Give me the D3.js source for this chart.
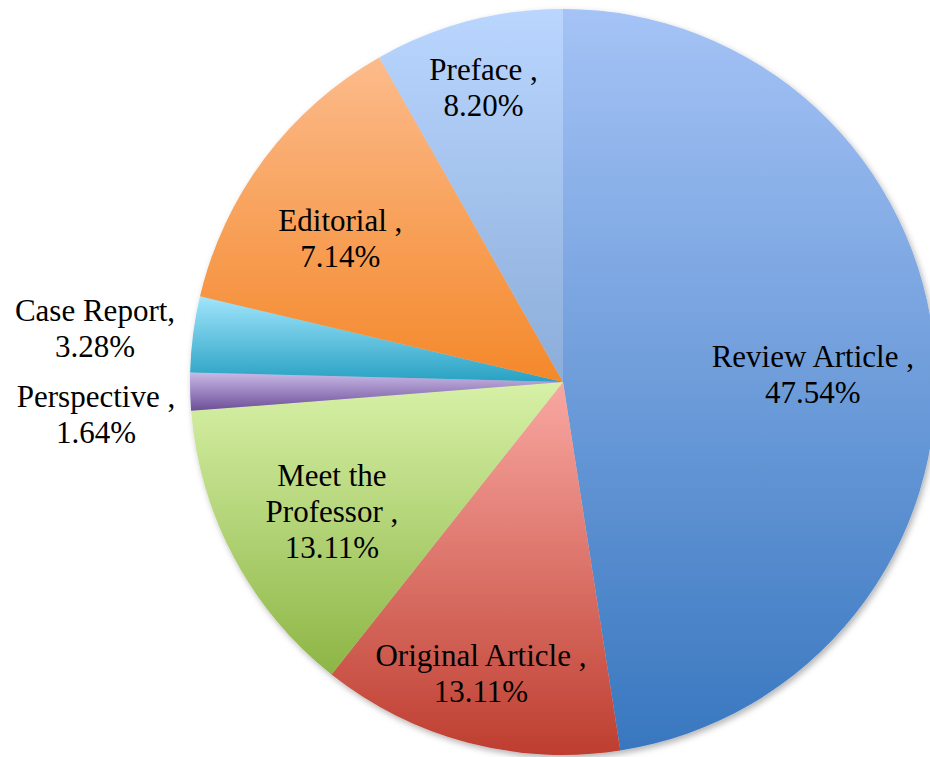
<!DOCTYPE html>
<html>
<head>
<meta charset="utf-8">
<script src="https://cdn.jsdelivr.net/npm/d3@7"></script>
<style>
  html, body { margin: 0; padding: 0; background: #fff; overflow: hidden; }
  svg text { font-family: "Liberation Serif", "Times New Roman", serif; }
</style>
</head>
<body>
<svg id="chart" width="930" height="757"></svg>
<script>
// 类别、占比（饼图扇区大小）、标签上显示的百分比
const categories = ["Review Article", "Original Article", "Meet the Professor", "Perspective", "Case Report", "Editorial", "Preface"];
const shares = [47.54, 13.11, 13.11, 1.64, 3.28, 13.11, 8.20];
const shownLabels = ["47.54%", "13.11%", "13.11%", "1.64%", "3.28%", "7.14%", "8.20%"];
// 标签第一行（换行按原图）
const nameLines = [["Review Article ,"], ["Original Article ,"], ["Meet the", "Professor ,"], ["Perspective ,"], ["Case Report,"], ["Editorial ,"], ["Preface ,"]];

// 渐变色（上浅下深）
const topColors = ["#a5c3f6", "#f9a8a2", "#d7f1a7", "#c9bae6", "#a1e5fc", "#fcbb8c", "#bad6ff"];
const bottomColors = ["#3877bf", "#be3e30", "#8db545", "#6d4d98", "#28a1c3", "#f4882a", "#8badd9"];

// 标签位置：半径比例与角度微调（度）
const labelRadius = [0.67, 0.81, 0.71, 1.255, 1.263, 0.71, 0.82];
const labelAngleShift = [2.7, 1.0, -1.2, -2.4, -0.8, -4.1, -0.3];

const width = 930, height = 757;
const cx = 563, cy = 382, R = 373;
const fontSize = 31, lineH = 36;

const svg = d3.select("#chart");
const defs = svg.append("defs");

const shadow = defs.append("filter")
  .attr("id", "shadow")
  .attr("x", "-10%").attr("y", "-10%")
  .attr("width", "120%").attr("height", "120%");
shadow.append("feDropShadow")
  .attr("dx", 2).attr("dy", 3)
  .attr("stdDeviation", 3)
  .attr("flood-color", "#000")
  .attr("flood-opacity", 0.3);

categories.forEach((c, i) => {
  const g = defs.append("linearGradient")
    .attr("id", "grad" + i)
    .attr("x1", 0).attr("y1", 0).attr("x2", 0).attr("y2", 1);
  g.append("stop").attr("offset", "0%").attr("stop-color", topColors[i]);
  g.append("stop").attr("offset", "100%").attr("stop-color", bottomColors[i]);
});

const pie = d3.pie().sort(null).value(d => d);
const arcs = pie(shares);
const arc = d3.arc().innerRadius(0).outerRadius(R);

const root = svg.append("g").attr("transform", `translate(${cx},${cy})`);

root.append("g")
  .attr("filter", "url(#shadow)")
  .selectAll("path")
  .data(arcs)
  .join("path")
    .attr("d", arc)
    .attr("fill", (d, i) => `url(#grad${i})`);

// 标签
const labels = root.append("g");
arcs.forEach((a, i) => {
  const mid = (a.startAngle + a.endAngle) / 2 + labelAngleShift[i] * Math.PI / 180;
  const r = labelRadius[i] * R;
  const x = r * Math.sin(mid);
  const y = -r * Math.cos(mid);
  const lines = nameLines[i].concat([shownLabels[i]]);
  const t = labels.append("text")
    .attr("text-anchor", "middle")
    .attr("font-size", fontSize + "px")
    .attr("fill", "#000");
  lines.forEach((ln, k) => {
    t.append("tspan")
      .attr("x", x)
      .attr("y", y + (k - (lines.length - 1) / 2) * lineH)
      .attr("dy", "0.35em")
      .text(ln);
  });
});
</script>
</body>
</html>
